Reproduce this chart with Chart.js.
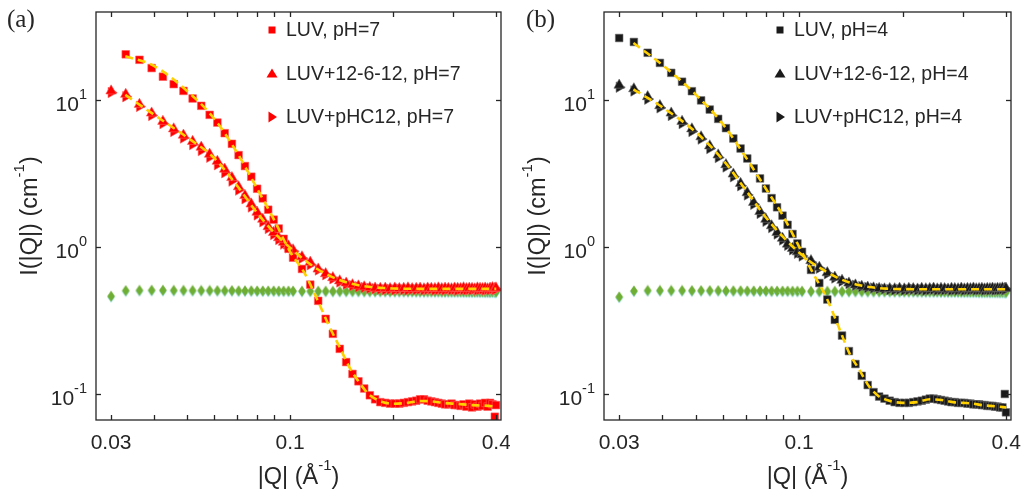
<!DOCTYPE html>
<html>
<head>
<meta charset="utf-8">
<script src="https://cdn.jsdelivr.net/npm/chart.js@4.4.0/dist/chart.umd.min.js"></script>
<style>
  html, body { margin: 0; padding: 0; background: #fff; }
  #wrap { position: relative; width: 1021px; height: 491px; }
  canvas { position: absolute; top: 0; }
  #panelA { left: 0; }
  #panelB { left: 510px; }
</style>
</head>
<body>
<div id="wrap">
  <canvas id="panelA" width="510" height="491"></canvas>
  <canvas id="panelB" width="511" height="491"></canvas>
</div>
<script>
// |Q| values of the measured points (1/Angstrom)
const qData = [
  0.0300, 0.0331, 0.0363, 0.0394, 0.0425, 0.0457, 0.0488, 0.0519, 0.0550, 0.0582, 0.0613, 0.0644,
  0.0676, 0.0707, 0.0738, 0.0770, 0.0801, 0.0832, 0.0863, 0.0895, 0.0926, 0.0957, 0.0989, 0.1020,
  0.1083, 0.1145, 0.1208, 0.1270, 0.1333, 0.1396, 0.1458, 0.1521, 0.1583, 0.1646, 0.1709, 0.1771,
  0.1834, 0.1896, 0.1959, 0.2022, 0.2084, 0.2147, 0.2209, 0.2272, 0.2335, 0.2397, 0.2460, 0.2522,
  0.2585, 0.2648, 0.2710, 0.2773, 0.2835, 0.2898, 0.2961, 0.3023, 0.3086, 0.3148, 0.3211, 0.3274,
  0.3336, 0.3399, 0.3461, 0.3524, 0.3587, 0.3649, 0.3712, 0.3774, 0.3837, 0.3900, 0.3962, 0.3993
];

// panel (a), pH = 7
const luvPH7 = [
  null, 20.6, 18.9, 16.6, 14.5, 12.9, 11.6, 10.3, 9.18, 7.97, 7.06, 5.98,
  5.06, 4.24, 3.57, 3.02, 2.50, 2.15, 1.80, 1.54, 1.34, 1.14, 0.977, 0.848,
  0.711, 0.556, 0.431, 0.325, 0.257, 0.203, 0.165, 0.137, 0.122, 0.109, 0.098, 0.092,
  0.088, 0.087, 0.086, 0.086, 0.086, 0.087, 0.088, 0.089, 0.090, 0.092, 0.092, 0.090,
  0.089, 0.088, 0.087, 0.086, 0.085, 0.085, 0.086, 0.084, 0.084, 0.083, 0.085, 0.082,
  0.086, 0.081, 0.085, 0.082, 0.086, 0.083, 0.087, 0.082, 0.087, 0.085, 0.070, 0.084
];
const gemPH7 = [
  11.6, 11.0, 9.4, 8.2, 7.2, 6.4, 5.8, 5.25, 4.8, 4.3, 3.85, 3.4,
  2.98, 2.58, 2.25, 1.97, 1.73, 1.55, 1.38, 1.26, 1.16, 1.08, 1.02, 0.96,
  0.86, 0.79, 0.71, 0.66, 0.62, 0.59, 0.57, 0.555, 0.545, 0.537, 0.531, 0.527,
  0.524, 0.526, 0.522, 0.527, 0.523, 0.525, 0.528, 0.522, 0.524, 0.526, 0.521, 0.527,
  0.525, 0.523, 0.528, 0.522, 0.526, 0.524, 0.521, 0.527, 0.525, 0.523, 0.529, 0.522,
  0.526, 0.524, 0.520, 0.528, 0.525, 0.523, 0.527, 0.521, 0.526, 0.530, 0.524, 0.528
];
const phcPH7 = [
  11.3, 10.6, 9.1, 7.9, 6.95, 6.15, 5.55, 5.0, 4.55, 4.1, 3.65, 3.22,
  2.82, 2.45, 2.14, 1.88, 1.66, 1.49, 1.34, 1.22, 1.13, 1.05, 0.99, 0.94,
  0.84, 0.76, 0.70, 0.65, 0.61, 0.58, 0.56, 0.547, 0.538, 0.531, 0.525, 0.521,
  0.517, 0.513, 0.516, 0.512, 0.518, 0.514, 0.511, 0.516, 0.513, 0.517, 0.512, 0.515,
  0.518, 0.511, 0.514, 0.516, 0.512, 0.517, 0.513, 0.515, 0.510, 0.518, 0.514, 0.512,
  0.516, 0.513, 0.519, 0.511, 0.515, 0.517, 0.512, 0.516, 0.514, 0.520, 0.513, 0.518
];
const bufferPH7 = [
  0.460, 0.502, 0.504, 0.505, 0.505, 0.504, 0.504, 0.503, 0.503, 0.503, 0.502, 0.502,
  0.502, 0.501, 0.501, 0.501, 0.500, 0.500, 0.500, 0.500, 0.499, 0.499, 0.499, 0.499,
  0.498, 0.498, 0.498, 0.498, 0.497, 0.497, 0.497, 0.497, 0.497, 0.496, 0.496, 0.496,
  0.496, 0.496, 0.495, 0.495, 0.495, 0.495, 0.495, 0.495, 0.494, 0.494, 0.494, 0.494,
  0.494, 0.494, 0.494, 0.493, 0.493, 0.493, 0.493, 0.493, 0.493, 0.493, 0.492, 0.492,
  0.492, 0.492, 0.492, 0.492, 0.492, 0.492, 0.491, 0.491, 0.491, 0.491, 0.491, 0.491
];

// panel (b), pH = 4
const luvPH4 = [
  26.6, 25.0, 21.1, 18.0, 15.4, 13.4, 11.55, 10.0, 8.66, 7.48, 6.47, 5.50,
  4.70, 4.02, 3.44, 2.94, 2.51, 2.16, 1.87, 1.64, 1.42, 1.23, 1.06, 0.93,
  0.70, 0.57, 0.44, 0.32, 0.25, 0.196, 0.160, 0.133, 0.115, 0.103, 0.096, 0.093,
  0.090, 0.088, 0.087, 0.087, 0.087, 0.088, 0.089, 0.090, 0.0915, 0.093, 0.093, 0.092,
  0.091, 0.090, 0.089, 0.088, 0.088, 0.087, 0.087, 0.087, 0.086, 0.086, 0.085, 0.085,
  0.085, 0.084, 0.084, 0.083, 0.083, 0.083, 0.082, 0.082, 0.081, 0.081, 0.100, 0.075
];
const gemPH4 = [
  12.7, 12.0, 10.6, 9.2, 8.2, 7.2, 6.4, 5.65, 4.9, 4.25, 3.65, 3.15,
  2.72, 2.35, 2.02, 1.75, 1.55, 1.40, 1.26, 1.15, 1.05, 0.98, 0.93, 0.89,
  0.81, 0.73, 0.67, 0.625, 0.595, 0.57, 0.553, 0.542, 0.534, 0.528, 0.524, 0.520,
  0.523, 0.521, 0.525, 0.520, 0.524, 0.522, 0.519, 0.525, 0.521, 0.523, 0.526, 0.520,
  0.524, 0.522, 0.519, 0.525, 0.523, 0.521, 0.526, 0.520, 0.524, 0.522, 0.527, 0.521,
  0.523, 0.525, 0.520, 0.524, 0.522, 0.526, 0.521, 0.525, 0.523, 0.528, 0.524, 0.526
];
const phcPH4 = [
  12.3, 11.6, 10.2, 8.9, 7.9, 6.95, 6.15, 5.45, 4.7, 4.08, 3.52, 3.02,
  2.62, 2.27, 1.96, 1.70, 1.50, 1.36, 1.23, 1.12, 1.03, 0.96, 0.91, 0.87,
  0.79, 0.72, 0.66, 0.617, 0.587, 0.565, 0.55, 0.54, 0.532, 0.527, 0.523, 0.519,
  0.514, 0.511, 0.515, 0.510, 0.513, 0.516, 0.511, 0.514, 0.509, 0.513, 0.515, 0.510,
  0.514, 0.512, 0.516, 0.510, 0.513, 0.511, 0.515, 0.509, 0.514, 0.512, 0.516, 0.511,
  0.513, 0.515, 0.510, 0.514, 0.512, 0.516, 0.511, 0.514, 0.513, 0.517, 0.512, 0.519
];
const bufferPH4 = [
  0.455, 0.500, 0.503, 0.503, 0.503, 0.503, 0.502, 0.502, 0.502, 0.502, 0.501, 0.501,
  0.501, 0.500, 0.500, 0.500, 0.500, 0.499, 0.499, 0.499, 0.499, 0.498, 0.498, 0.498,
  0.497, 0.497, 0.497, 0.497, 0.496, 0.496, 0.496, 0.496, 0.495, 0.495, 0.495, 0.495,
  0.495, 0.494, 0.494, 0.494, 0.494, 0.494, 0.493, 0.493, 0.493, 0.493, 0.493, 0.493,
  0.492, 0.492, 0.492, 0.492, 0.492, 0.492, 0.491, 0.491, 0.491, 0.491, 0.491, 0.491,
  0.490, 0.490, 0.490, 0.490, 0.490, 0.490, 0.490, 0.489, 0.489, 0.489, 0.489, 0.489
];

// model fits (yellow dashed)
const qFit = [0.033, 0.04, 0.05, 0.06, 0.07, 0.08, 0.09, 0.10, 0.11, 0.12, 0.13, 0.14, 0.15, 0.16,
  0.17, 0.18, 0.19, 0.20, 0.22, 0.24, 0.26, 0.28, 0.30, 0.32, 0.34, 0.36, 0.38, 0.40];
const fitLuvPH7 = [20.0, 17.2, 11.6, 7.5, 4.4, 2.52, 1.52, 0.93, 0.67, 0.44, 0.29, 0.205, 0.148, 0.118,
  0.099, 0.091, 0.087, 0.0858, 0.087, 0.0895, 0.089, 0.087, 0.086, 0.085, 0.084, 0.0835, 0.083, 0.082];
const fitMixPH7 = [10.9, 8.0, 5.6, 4.05, 2.62, 1.72, 1.25, 0.99, 0.82, 0.71, 0.64, 0.595, 0.566, 0.548,
  0.537, 0.53, 0.526, 0.523, 0.521, 0.52, 0.52, 0.52, 0.52, 0.52, 0.52, 0.52, 0.52, 0.52];
const fitLuvPH4 = [24.6, 17.5, 11.0, 6.9, 4.1, 2.51, 1.62, 1.01, 0.66, 0.455, 0.29, 0.19, 0.145, 0.112,
  0.097, 0.091, 0.088, 0.087, 0.088, 0.092, 0.091, 0.088, 0.087, 0.086, 0.084, 0.083, 0.082, 0.081];
const fitMixPH4 = [11.9, 9.0, 6.1, 3.95, 2.45, 1.6, 1.17, 0.92, 0.77, 0.68, 0.615, 0.575, 0.55, 0.535,
  0.527, 0.522, 0.519, 0.518, 0.517, 0.517, 0.517, 0.517, 0.517, 0.517, 0.517, 0.517, 0.517, 0.517];

// axes
const xRange = [0.0271, 0.413];
const yRange = [0.0665, 40];
const xTickMajor = [0.03, 0.1, 0.4];
const xTickLabels = ['0.03', '0.1', '0.4'];
const xTickMinor = [0.04, 0.05, 0.06, 0.07, 0.08, 0.09, 0.2, 0.3];
const yTicks = [0.1, 1, 10];
const yTickExp = ['-1', '0', '1'];

const AXIS_COLOR = '#262626';
const FIT_COLOR = '#FFD000';
const GREEN = '#6fae35';
const SANS = '"Liberation Sans", Arial, Helvetica, sans-serif';

// diamond marker (green over a faint cyan shadow)
function makeDiamond() {
  const c = document.createElement('canvas');
  c.width = 10; c.height = 13;
  const g = c.getContext('2d');
  const diamond = (dy, color) => {
    g.beginPath();
    g.moveTo(5, 0.5 + dy); g.lineTo(8.8, 6 + dy); g.lineTo(5, 11.5 + dy); g.lineTo(1.2, 6 + dy);
    g.closePath(); g.fillStyle = color; g.fill();
  };
  diamond(1, '#9be3ea');
  diamond(0, GREEN);
  return c;
}
const diamondImg = makeDiamond();

function pts(xs, ys) {
  return xs.map((x, i) => ({ x: x, y: ys[i] }));
}

// text with superscript parts: [[text, isSup], ...]
function drawRich(ctx, parts, x, y, align, size, supSize, raise) {
  let total = 0;
  parts.forEach(p => {
    ctx.font = (p[1] ? supSize : size) + 'px ' + SANS;
    total += ctx.measureText(p[0]).width;
  });
  let cx = align === 'right' ? x - total : (align === 'center' ? x - total / 2 : x);
  ctx.textAlign = 'left';
  ctx.textBaseline = 'alphabetic';
  parts.forEach(p => {
    ctx.font = (p[1] ? supSize : size) + 'px ' + SANS;
    ctx.fillText(p[0], cx, p[1] ? y - raise : y);
    cx += ctx.measureText(p[0]).width;
  });
}

function legendMarker(ctx, shape, x, y, color) {
  ctx.fillStyle = color;
  ctx.beginPath();
  if (shape === 'square') {
    ctx.rect(x - 3.5, y - 3.5, 7, 7);
  } else if (shape === 'up') {
    ctx.moveTo(x, y - 5); ctx.lineTo(x + 5.5, y + 4); ctx.lineTo(x - 5.5, y + 4); ctx.closePath();
  } else {
    ctx.moveTo(x + 5, y); ctx.lineTo(x - 3.5, y - 5.5); ctx.lineTo(x - 3.5, y + 5.5); ctx.closePath();
  }
  ctx.fill();
}

// box, inward ticks, tick labels, titles, legend, panel letter
const matlabAxes = {
  id: 'matlabAxes',
  afterDraw(chart, args, opts) {
    const ctx = chart.ctx;
    const { left, right, top, bottom } = chart.chartArea;
    const xs = chart.scales.x, ys = chart.scales.y;
    ctx.save();
    ctx.strokeStyle = AXIS_COLOR;
    ctx.fillStyle = AXIS_COLOR;
    ctx.lineWidth = 1.3;

    const seg = (x1, y1, x2, y2) => { ctx.beginPath(); ctx.moveTo(x1, y1); ctx.lineTo(x2, y2); ctx.stroke(); };

    xTickMajor.concat(xTickMinor).forEach(v => {
      const px = Math.round(xs.getPixelForValue(v)) + 0.5;
      seg(px, bottom, px, bottom - 5);
      seg(px, top, px, top + 5);
    });
    yTicks.forEach(v => {
      const py = Math.round(ys.getPixelForValue(v)) + 0.5;
      seg(left, py, left + 5, py);
      seg(right, py, right - 5, py);
    });
    ctx.strokeRect(left, top, right - left, bottom - top);

    // x tick labels
    ctx.font = '21px ' + SANS;
    ctx.textAlign = 'center';
    ctx.textBaseline = 'alphabetic';
    xTickMajor.forEach((v, i) => ctx.fillText(xTickLabels[i], xs.getPixelForValue(v), bottom + 28.5));

    // y tick labels 10^n
    yTicks.forEach((v, i) => {
      const py = ys.getPixelForValue(v);
      drawRich(ctx, [['10', false], [yTickExp[i], true]], left - 9, py + 11, 'right', 21, 14.5, 12);
    });

    // x title
    drawRich(ctx, [['|Q| (Å', false], ['-1', true], [')', false]],
      (left + right) / 2, bottom + 64, 'center', 23.5, 15, 14);

    // y title (rotated)
    ctx.save();
    ctx.translate(left - 59, (top + bottom) / 2);
    ctx.rotate(-Math.PI / 2);
    drawRich(ctx, [['I(|Q|) (cm', false], ['-1', true], [')', false]], 0, 0, 'center', 23.5, 15, 13);
    ctx.restore();

    // legend
    opts.legend.forEach((item, i) => {
      const ly = top + 18 + i * 43.5;
      legendMarker(ctx, item.shape, left + 176, ly, item.color);
      ctx.fillStyle = AXIS_COLOR;
      ctx.font = '19.5px ' + SANS;
      ctx.textAlign = 'left';
      ctx.textBaseline = 'middle';
      ctx.fillText(item.label, left + 190, ly + 1);
    });

    // panel letter
    ctx.font = '25px "Liberation Serif", "Times New Roman", serif';
    ctx.textAlign = 'left';
    ctx.textBaseline = 'alphabetic';
    ctx.fillText(opts.letter, opts.letterX, 27);
    ctx.restore();
  }
};

function makePanel(id, cfg) {
  const markerColor = cfg.color;
  const datasets = [
    {
      label: 'fit LUV', data: pts(qFit, cfg.fitLuv), showLine: true, pointRadius: 0,
      borderColor: FIT_COLOR, borderWidth: 2.6, borderDash: [8, 5],
      cubicInterpolationMode: 'monotone', order: 0
    },
    {
      label: 'fit mix', data: pts(qFit, cfg.fitMix), showLine: true, pointRadius: 0,
      borderColor: FIT_COLOR, borderWidth: 2.6, borderDash: [8, 5],
      cubicInterpolationMode: 'monotone', order: 0
    },
    {
      label: cfg.legend[0].label, data: pts(qData, cfg.luv), showLine: false,
      pointStyle: 'rect', pointRadius: 5.4, pointBorderWidth: 0.6,
      pointBackgroundColor: markerColor, pointBorderColor: cfg.edge, order: 1
    },
    {
      label: cfg.legend[1].label, data: pts(qData, cfg.gem), showLine: false,
      pointStyle: 'triangle', pointRadius: 6.1, pointBorderWidth: 0.6,
      pointBackgroundColor: markerColor, pointBorderColor: cfg.edge, order: 2
    },
    {
      label: cfg.legend[2].label, data: pts(qData, cfg.phc), showLine: false,
      pointStyle: 'triangle', pointRotation: 90, pointRadius: 6.1, pointBorderWidth: 0.6,
      pointBackgroundColor: markerColor, pointBorderColor: cfg.edge, order: 3
    },
    {
      label: 'buffer', data: pts(qData, cfg.buffer), showLine: false,
      pointStyle: diamondImg, pointRadius: 5, order: 4
    }
  ];

  new Chart(document.getElementById(id).getContext('2d'), {
    type: 'scatter',
    data: { datasets: datasets },
    options: {
      responsive: false,
      animation: false,
      events: [],
      layout: { padding: cfg.padding },
      scales: {
        x: { type: 'logarithmic', min: xRange[0], max: xRange[1], display: false },
        y: { type: 'logarithmic', min: yRange[0], max: yRange[1], display: false }
      },
      plugins: {
        legend: { display: false },
        tooltip: { enabled: false },
        matlabAxes: { legend: cfg.legend, letter: cfg.letter, letterX: cfg.letterX }
      }
    },
    plugins: [matlabAxes]
  });
}

makePanel('panelA', {
  color: '#ff0000', edge: '#ff5a5a', letter: '(a)', letterX: 7,
  padding: { left: 96, right: 9, top: 12, bottom: 71 },
  luv: luvPH7, gem: gemPH7, phc: phcPH7, buffer: bufferPH7,
  fitLuv: fitLuvPH7, fitMix: fitMixPH7,
  legend: [
    { label: 'LUV, pH=7', shape: 'square', color: '#ff0000' },
    { label: 'LUV+12-6-12, pH=7', shape: 'up', color: '#ff0000' },
    { label: 'LUV+pHC12, pH=7', shape: 'right', color: '#ff0000' }
  ]
});

makePanel('panelB', {
  color: '#1a1a1a', edge: '#6e6e6e', letter: '(b)', letterX: 16,
  padding: { left: 94, right: 10, top: 12, bottom: 71 },
  luv: luvPH4, gem: gemPH4, phc: phcPH4, buffer: bufferPH4,
  fitLuv: fitLuvPH4, fitMix: fitMixPH4,
  legend: [
    { label: 'LUV, pH=4', shape: 'square', color: '#1a1a1a' },
    { label: 'LUV+12-6-12, pH=4', shape: 'up', color: '#1a1a1a' },
    { label: 'LUV+pHC12, pH=4', shape: 'right', color: '#1a1a1a' }
  ]
});
</script>
</body>
</html>
